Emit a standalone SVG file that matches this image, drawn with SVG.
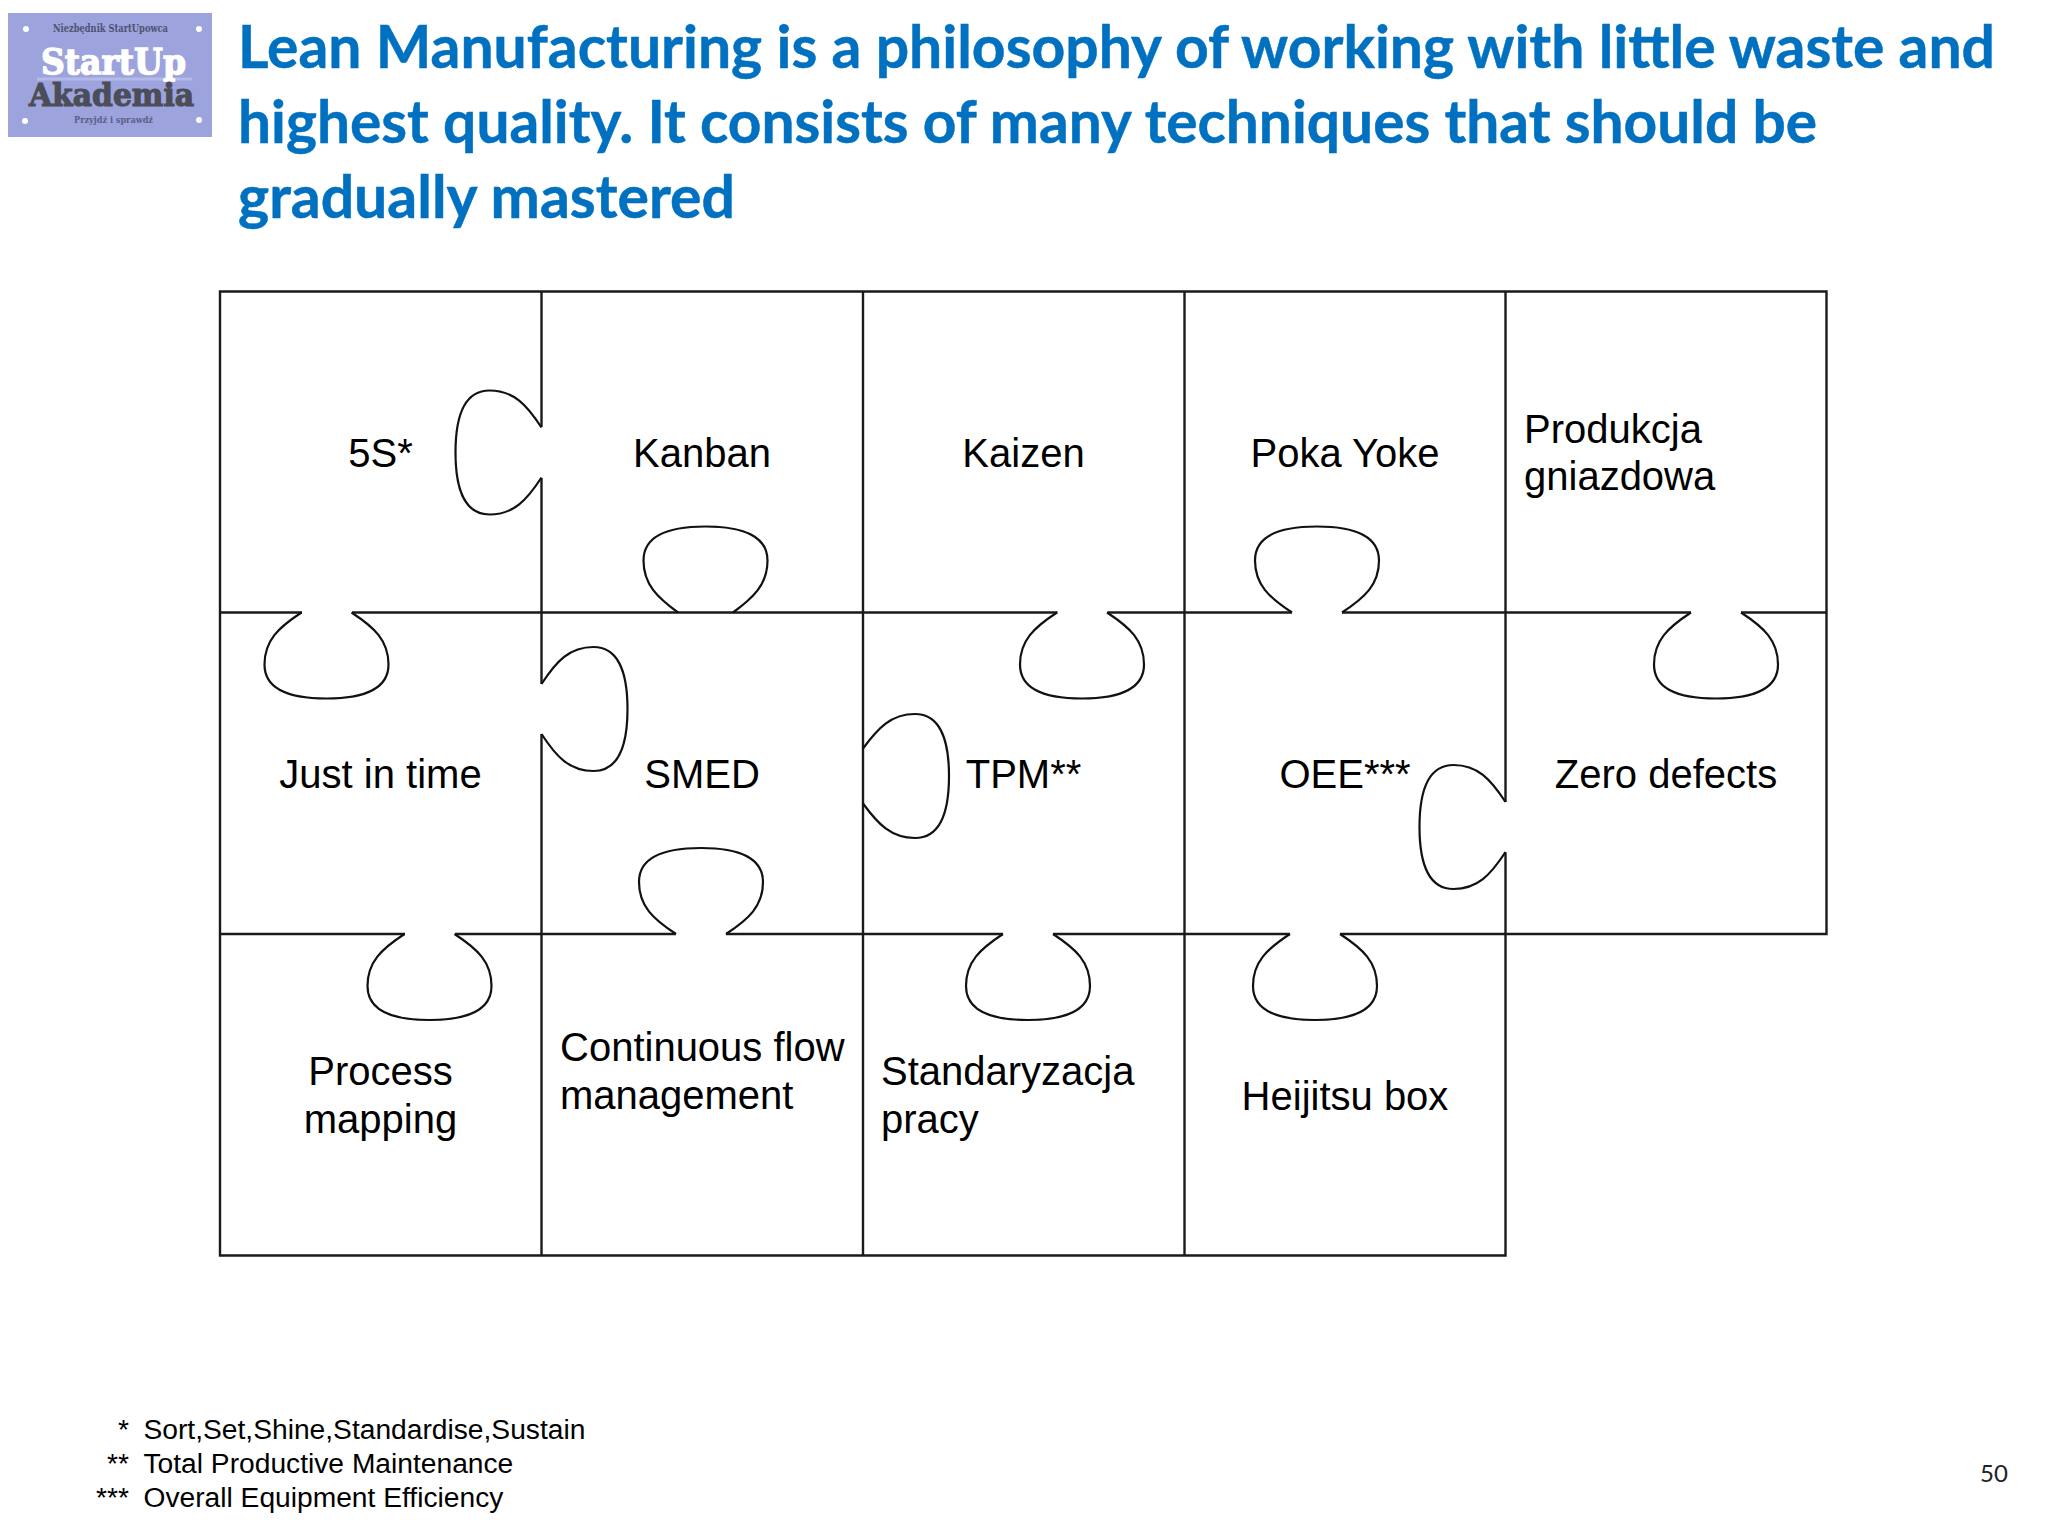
<svg xmlns="http://www.w3.org/2000/svg" xmlns:xlink="http://www.w3.org/1999/xlink" width="2048" height="1536" viewBox="0 0 2048 1536">
<style>
text{font-family:"Liberation Sans",Arial,sans-serif;fill:#000}
.l{font-size:40px}
.c{text-anchor:middle}
.f{font-size:28.2px}
.t{font-family:Lato,"Noto Sans",sans-serif;font-weight:700;font-size:60px;fill:#0070c0;stroke:#0070c0;stroke-width:.5}
.g{fill:none;stroke:#1a1a1a;stroke-width:2.4}
.tab{fill:none;stroke:#111;stroke-width:2.2}
.logo{font-family:"DejaVu Serif",serif;font-weight:700}
</style>
<defs>
<path id="tab" class="tab" d="M-25,0C-48,15-62,28-62,52C-62,76-38,86 0,86C38,86 62,76 62,52C62,28 48,15 25,0"/>
<path id="tabc" class="tab" d="M-27.5,0C-48,15-62,28-62,52C-62,76-38,86 0,86C38,86 62,76 62,52C62,28 48,15 27.5,0"/>
</defs>
<rect width="2048" height="1536" fill="#fff"/>
<g id="logo">
<rect x="8" y="13" width="204" height="124" fill="#9da3dc"/>
<path d="M37,79H192" stroke="#b4bae8" stroke-width="3" fill="none"/>
<text class="logo" x="53" y="32" font-size="11" textLength="115" lengthAdjust="spacingAndGlyphs" style="fill:#4d5273">Niezbędnik StartUpowca</text>
<text class="logo" x="41" y="74" font-size="36" textLength="145" lengthAdjust="spacingAndGlyphs" style="fill:#fff;stroke:#fff;stroke-width:1.4">StartUp</text>
<text class="logo" x="29" y="106" font-size="32" textLength="165" lengthAdjust="spacingAndGlyphs" style="fill:#4b4d58;stroke:#4b4d58;stroke-width:1.2">Akademia</text>
<text class="logo" x="74" y="123" font-size="10" textLength="79" lengthAdjust="spacingAndGlyphs" style="fill:#5a5f88">Przyjdź i sprawdź</text>
<g fill="#fff"><circle cx="26" cy="29" r="3"/><circle cx="199" cy="29" r="3"/><circle cx="25" cy="121" r="3"/><circle cx="199" cy="120" r="3"/></g>
</g>
<g id="title">
<text class="t" x="238" y="68" textLength="1757" lengthAdjust="spacingAndGlyphs">Lean Manufacturing is a philosophy of working with little waste and</text>
<text class="t" x="238" y="143" textLength="1579" lengthAdjust="spacingAndGlyphs">highest quality. It consists of many techniques that should be</text>
<text class="t" x="238" y="218" textLength="497" lengthAdjust="spacingAndGlyphs">gradually mastered</text>
</g>
<g id="connectors">
<path class="g" d="M220,291.5H1826.5V934H1505.5V1255.5H220Z"/>
<path class="g" d="M541.5,291.5V427M541.5,478V684M541.5,734V1255.5"/>
<path class="g" d="M863,291.5V1255.5"/>
<path class="g" d="M1184.5,291.5V1255.5"/>
<path class="g" d="M1505.5,291.5V802M1505.5,852.5V934"/>
<path class="g" d="M220,612.5H302M352,612.5H1057.5M1107.5,612.5H1292M1342,612.5H1691M1741,612.5H1826.5"/>
<path class="g" d="M220,934H405M455,934H676M726,934H1003M1053,934H1290M1340,934H1505.5"/>
<use xlink:href="#tab" transform="translate(326.5,612.5)"/>
<use xlink:href="#tabc" transform="translate(705.5,612.5) scale(1,-1)"/>
<use xlink:href="#tab" transform="translate(1082,612.5)"/>
<use xlink:href="#tab" transform="translate(1317,612.5) scale(1,-1)"/>
<use xlink:href="#tab" transform="translate(1716,612.5)"/>
<use xlink:href="#tab" transform="translate(429.5,934)"/>
<use xlink:href="#tab" transform="translate(701,934) scale(1,-1)"/>
<use xlink:href="#tab" transform="translate(1028,934)"/>
<use xlink:href="#tab" transform="translate(1315,934)"/>
<use xlink:href="#tab" transform="translate(541.5,452.5) rotate(90)"/>
<use xlink:href="#tab" transform="translate(541.5,709) rotate(-90)"/>
<use xlink:href="#tabc" transform="translate(863,776) rotate(-90)"/>
<use xlink:href="#tab" transform="translate(1505.5,827) rotate(90)"/>
</g>
<g id="n-5s"><text class="l c" x="380.5" y="467">5S*</text></g>
<g id="n-kanban"><text class="l c" x="702" y="467">Kanban</text></g>
<g id="n-kaizen"><text class="l c" x="1023.5" y="467">Kaizen</text></g>
<g id="n-pokayoke"><text class="l c" x="1345" y="467">Poka Yoke</text></g>
<g id="n-produkcja"><text class="l" x="1524" y="442.5">Produkcja</text><text class="l" x="1524" y="490">gniazdowa</text></g>
<g id="n-jit"><text class="l c" x="380.5" y="788">Just in time</text></g>
<g id="n-smed"><text class="l c" x="702" y="788">SMED</text></g>
<g id="n-tpm"><text class="l c" x="1023.5" y="788">TPM**</text></g>
<g id="n-oee"><text class="l c" x="1345" y="788">OEE***</text></g>
<g id="n-zero"><text class="l c" x="1666" y="788">Zero defects</text></g>
<g id="n-process"><text class="l c" x="380.5" y="1085">Process</text><text class="l c" x="380.5" y="1133">mapping</text></g>
<g id="n-flow"><text class="l" x="560" y="1061">Continuous flow</text><text class="l" x="560" y="1109">management</text></g>
<g id="n-std"><text class="l" x="881" y="1085">Standaryzacja</text><text class="l" x="881" y="1133">pracy</text></g>
<g id="n-heijitsu"><text class="l c" x="1345" y="1110">Heijitsu box</text></g>
<g id="footnotes">
<text class="f" x="129" y="1438.5" text-anchor="end">*</text><text class="f" x="143.5" y="1438.5">Sort,Set,Shine,Standardise,Sustain</text>
<text class="f" x="129" y="1472.5" text-anchor="end">**</text><text class="f" x="143.5" y="1472.5">Total Productive Maintenance</text>
<text class="f" x="129" y="1506.5" text-anchor="end">***</text><text class="f" x="143.5" y="1506.5">Overall Equipment Efficiency</text>
</g>
<text x="1980" y="1482" style="font-family:Lato,sans-serif;font-size:24px;fill:#222">50</text>
</svg>
